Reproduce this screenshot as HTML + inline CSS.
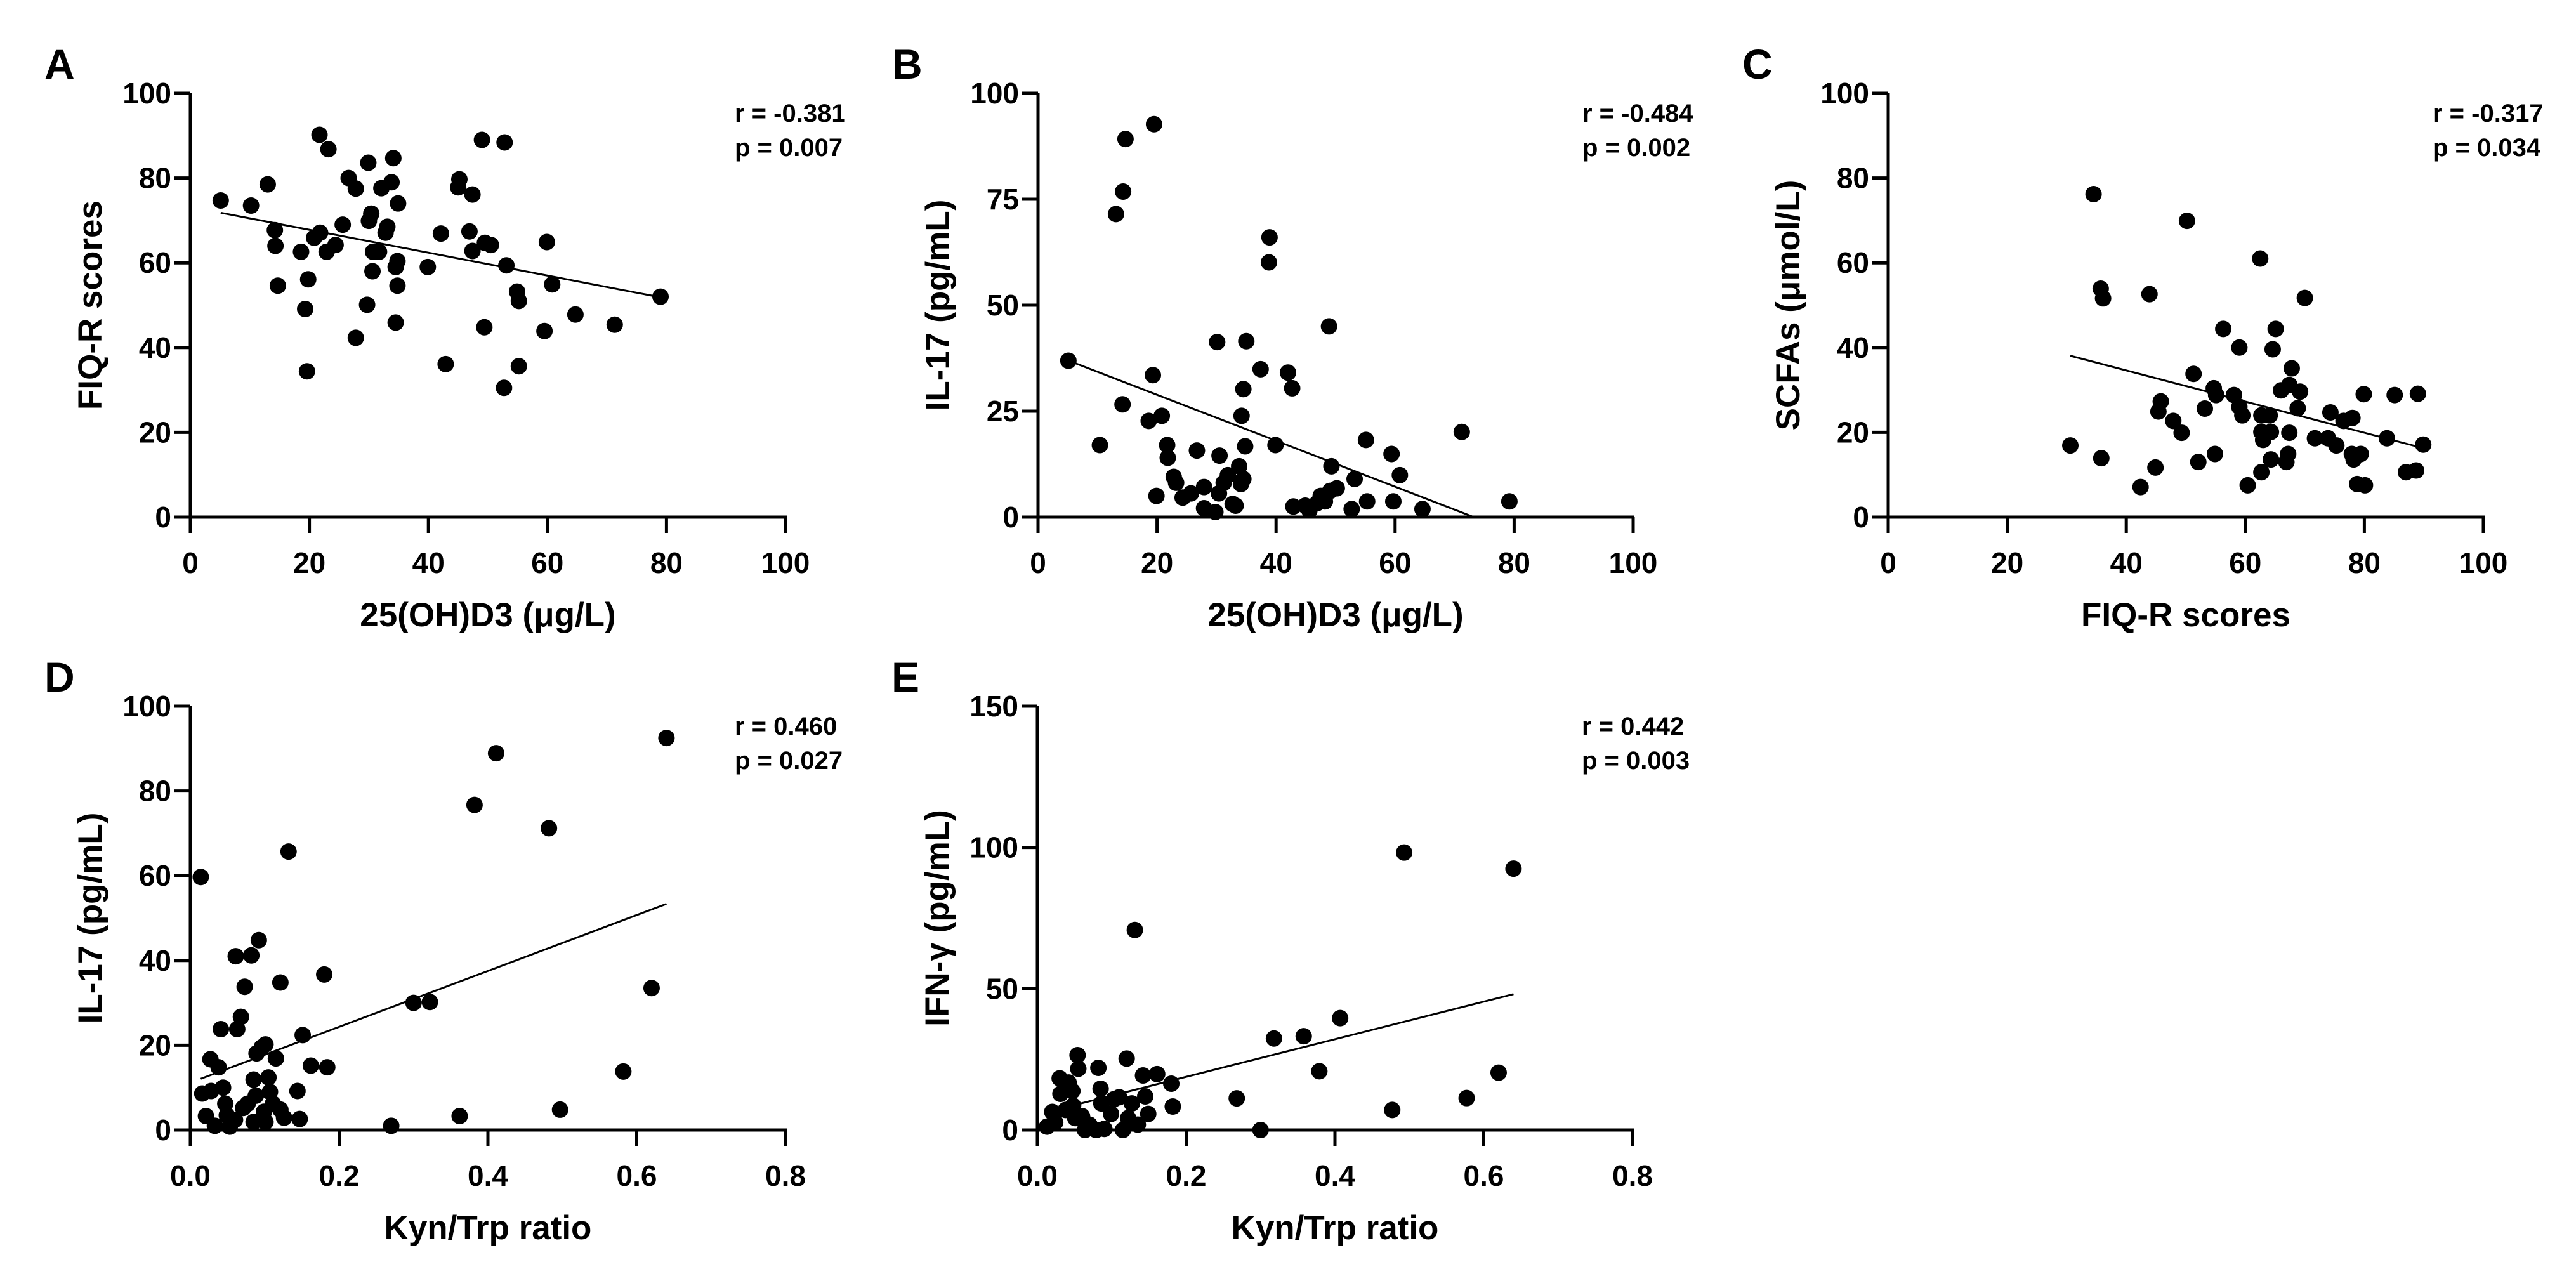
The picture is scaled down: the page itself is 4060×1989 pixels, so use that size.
<!DOCTYPE html>
<html><head><meta charset="utf-8"><style>
html,body{margin:0;padding:0;background:#fff;}
svg{display:block;font-family:"Liberation Sans",Arial,sans-serif;font-weight:bold;}
</style></head><body>
<svg id="fig" width="4060" height="1989" viewBox="0 0 4060 1989" xmlns="http://www.w3.org/2000/svg"></svg>
<script>
// Panel A data
const aX=[5.1,10.2,13,14.2,14.3,14.7,18.6,19.8,19.3,19.6,21.7,23.2,20.8,21.8,22.9,24.4,25.6,26.6,27.8,27.8,29.7,29.9,30,30.4,30.6,30.7,31.7,32.1,32.8,33.1,33.8,34.1,34.9,34.5,34.8,34.8,34.5,39.9,42.1,42.9,45.2,45,47.4,46.9,47.4,49,49.5,50.5,49.4,52.8,53.1,52.7,54.9,55.2,55.2,59.9,60.8,59.5,64.7,71.3,79];
const aY=[74.7,73.5,78.5,67.7,64,54.6,62.6,56.1,49.1,34.4,90.2,86.8,65.9,67.1,62.6,64.2,69,80,77.5,42.3,50.1,83.6,69.9,71.6,58,62.6,62.6,77.6,67.1,68.5,79,84.7,74,59,60.4,54.6,45.9,59,66.9,36.1,79.7,77.8,76.1,67.4,62.8,89,64.7,64.2,44.8,88.4,59.4,30.5,53.2,51,35.6,64.9,54.9,43.9,47.8,45.4,52];
// Panel B data
const bX=[5.1,10.4,13.1,14.3,14.7,14.2,19.5,19.3,18.6,20.8,19.9,21.7,21.8,22.8,23.2,24.3,25.7,26.7,27.9,27.9,29.8,30.1,30.5,30.4,31.2,31.9,32.7,33.2,33.8,34.5,34.1,34.2,34.5,35,34.8,37.4,38.9,38.8,39.9,42,42.7,42.9,44.9,45.6,46.9,47.5,48.2,49.1,50.2,49.3,48.9,52.7,53.2,55.1,55.3,59.4,59.7,60.8,64.6,71.2,79.2];
const bY=[36.9,17,71.5,76.8,89.2,26.6,92.7,33.5,22.7,23.9,5,17,14,9.5,8.1,4.6,5.6,15.7,7.1,2.1,1.2,41.3,14.5,5.6,8.1,9.9,3.1,2.7,12,9,7.8,23.9,30.2,41.5,16.7,34.9,66,60.1,17,34.1,30.4,2.5,2.7,1.6,3.3,5,3.7,6.2,6.8,12,45,1.9,9,18.2,3.7,14.9,3.7,9.9,1.9,20.1,3.7];
// Panel C data
const cX=[30.6,34.5,35.7,36.1,35.8,42.4,43.9,45.8,45.4,44.9,47.9,49.3,50.2,51.3,52.1,53.2,54.7,55.1,54.9,56.3,58.1,59,59,59.5,60.4,62.5,62.7,62.7,63,62.7,64.1,64.3,64.3,64.6,65.1,66,67.4,67.8,67.4,67.2,66.9,69.2,68.8,70,71.7,73.9,74.3,75.3,76.5,78,77.9,78.2,79.4,78.8,80.1,79.9,83.8,85.1,87,88.7,89,89.9];
const cY=[16.9,76.2,53.9,51.6,13.9,7.1,52.6,27.3,24.9,11.7,22.7,19.9,69.9,33.8,13,25.6,30.4,28.8,14.9,44.4,28.8,40,26,24,7.5,61,24,20.1,18.2,10.6,24,20.1,13.6,39.6,44.4,29.9,31.2,35.1,19.9,14.9,13,29.6,25.7,51.7,18.6,18.6,24.7,16.9,22.7,23.4,14.9,13.6,14.9,7.8,7.5,29,18.6,28.8,10.6,11,29.1,17.1];
// Panel D data
const dX=[0.014,0.016,0.021,0.027,0.028,0.033,0.038,0.041,0.044,0.047,0.049,0.053,0.06,0.063,0.068,0.061,0.082,0.073,0.071,0.077,0.085,0.088,0.085,0.092,0.089,0.096,0.101,0.099,0.101,0.105,0.107,0.111,0.115,0.121,0.121,0.126,0.132,0.144,0.147,0.151,0.162,0.18,0.184,0.27,0.3,0.322,0.362,0.382,0.411,0.482,0.497,0.582,0.62,0.64];
const dY=[59.7,8.6,3.3,16.7,9.2,1,14.8,23.8,10,6.2,3.5,0.8,2.4,23.8,26.7,41,41.2,33.8,5.2,6.2,11.9,8.1,1.9,44.8,18.1,19.5,20.2,4.3,1.9,12.4,9,6.2,16.9,34.8,4.8,2.9,65.7,9.2,2.6,22.4,15.2,36.7,14.8,1,30,30.2,3.3,76.7,88.9,71.2,4.8,13.8,33.5,92.5];
// Panel E data
const eX=[0.013,0.02,0.024,0.03,0.031,0.038,0.042,0.047,0.048,0.051,0.054,0.055,0.06,0.064,0.07,0.079,0.082,0.085,0.086,0.09,0.099,0.103,0.11,0.115,0.12,0.122,0.127,0.131,0.135,0.142,0.145,0.149,0.161,0.18,0.182,0.268,0.3,0.318,0.358,0.379,0.407,0.477,0.493,0.577,0.62,0.64];
const eY=[1.2,6.4,2.7,18.3,12.8,7.1,16.8,13.8,8.6,4.2,26.5,21.7,4.9,0,1.9,0,22,14.6,9.4,0.4,5.7,10.9,11.6,0,25.3,4.2,9.4,70.8,1.9,19.3,11.9,5.7,19.8,16.4,8.3,11.2,0,32.4,33.2,20.8,39.6,7.1,98.2,11.3,20.3,92.5];
// Tick labels
const ticks100=[0,20,40,60,80,100];
const ticksB=[0,25,50,75,100];
const ticksKyn=[0,0.2,0.4,0.6,0.8];
const ticksE=[0,50,100,150];
const statsR=["r = -0.381","r = -0.484","r = -0.317","r = 0.460","r = 0.442"];
const statsP=["p = 0.007","p = 0.002","p = 0.034","p = 0.027","p = 0.003"];

const NS="http://www.w3.org/2000/svg";
const svg=document.getElementById('fig');
function mk(tag,attrs,parent){const e=document.createElementNS(NS,tag);for(const k in attrs)e.setAttribute(k,attrs[k]);(parent||svg).appendChild(e);return e;}

const W=938;
const panels=[
 {id:'a',L:'A',ox:300,top:147,bot:815,xs:aX,ys:aY,xmax:100,ymax:100,xt:ticks100,yt:ticks100,xf:v=>String(v),xl:'25(OH)D3 (μg/L)',yl:'FIQ-R scores',ri:0},
 {id:'b',L:'B',ox:1636,top:147,bot:815,xs:bX,ys:bY,xmax:100,ymax:100,xt:ticks100,yt:ticksB,xf:v=>String(v),xl:'25(OH)D3 (μg/L)',yl:'IL-17 (pg/mL)',ri:1},
 {id:'c',L:'C',ox:2976,top:147,bot:815,xs:cX,ys:cY,xmax:100,ymax:100,xt:ticks100,yt:ticks100,xf:v=>String(v),xl:'FIQ-R scores',yl:'SCFAs (μmol/L)',ri:2},
 {id:'d',L:'D',ox:300,top:1113,bot:1781,xs:dX,ys:dY,xmax:0.8,ymax:100,xt:ticksKyn,yt:ticks100,xf:v=>v.toFixed(1),xl:'Kyn/Trp ratio',yl:'IL-17 (pg/mL)',ri:3},
 {id:'e',L:'E',ox:1635,top:1113,bot:1781,xs:eX,ys:eY,xmax:0.8,ymax:150,xt:ticksKyn,yt:ticksE,xf:v=>v.toFixed(1),xl:'Kyn/Trp ratio',yl:'IFN-γ (pg/mL)',ri:4}
];

panels.forEach(p=>{
 const g=mk('g',{});
 
 
 const sx=v=>p.ox+v/p.xmax*W;
 const sy=v=>p.bot-v/p.ymax*(p.bot-p.top);
 const lab=mk('text',{x:p.ox-230,y:p.top-23,'font-size':66},g);lab.textContent=p.L;
 
 
 // axes
 const ya=mk('line',{x1:p.ox,y1:p.top,x2:p.ox,y2:p.bot+25,stroke:'#000','stroke-width':5},g);
 
 
 const xa=mk('line',{x1:p.ox-25,y1:p.bot,x2:p.ox+W+2,y2:p.bot,stroke:'#000','stroke-width':5},g);
 
 
 p.yt.forEach(v=>{
  const y=sy(v);
  mk('line',{x1:p.ox-25,y1:y,x2:p.ox,y2:y,stroke:'#000','stroke-width':5},g);
  const t=mk('text',{x:p.ox-30,y:y+16,'font-size':46,'text-anchor':'end'},g);t.textContent=String(v);
  
  
 });
 p.xt.forEach(v=>{
  const x=sx(v);
  mk('line',{x1:x,y1:p.bot,x2:x,y2:p.bot+25,stroke:'#000','stroke-width':5},g);
  const t=mk('text',{x:x,y:p.bot+88,'font-size':46,'text-anchor':'middle'},g);t.textContent=p.xf(v);
  
  
 });
 const xt=mk('text',{x:p.ox+W/2,y:p.bot+172,'font-size':53,'text-anchor':'middle'},g);xt.textContent=p.xl;
 
 
 const cy=(p.top+p.bot)/2, cx=p.ox-140;
 const yt=mk('text',{x:cx,y:cy,'font-size':53,'text-anchor':'middle',transform:`rotate(-90 ${cx} ${cy})`},g);yt.textContent=p.yl;
 
 
 const r=mk('text',{x:p.ox+858,y:p.top+45,'font-size':40},g);r.textContent=statsR[p.ri];
 
 
 const pv=mk('text',{x:p.ox+858,y:p.top+99,'font-size':40},g);pv.textContent=statsP[p.ri];
 
 
 // regression
 const n=p.xs.length;let mx=0,my=0;for(let i=0;i<n;i++){mx+=p.xs[i];my+=p.ys[i];}mx/=n;my/=n;
 let sxy=0,sxx=0;for(let i=0;i<n;i++){sxy+=(p.xs[i]-mx)*(p.ys[i]-my);sxx+=(p.xs[i]-mx)**2;}
 const b=sxy/sxx,a=my-b*mx;
 let x1=Math.min(...p.xs),x2=Math.max(...p.xs);
 if(a+b*x2<0)x2=-a/b;
 const rl=mk('line',{x1:sx(x1),y1:sy(a+b*x1),x2:sx(x2),y2:sy(a+b*x2),stroke:'#000','stroke-width':3},g);
 
 
 for(let i=0;i<n;i++){
  const c=mk('circle',{cx:sx(p.xs[i]),cy:sy(p.ys[i]),r:13,fill:'#000'},g);
  
  
 }
});
</script>
</body></html>
